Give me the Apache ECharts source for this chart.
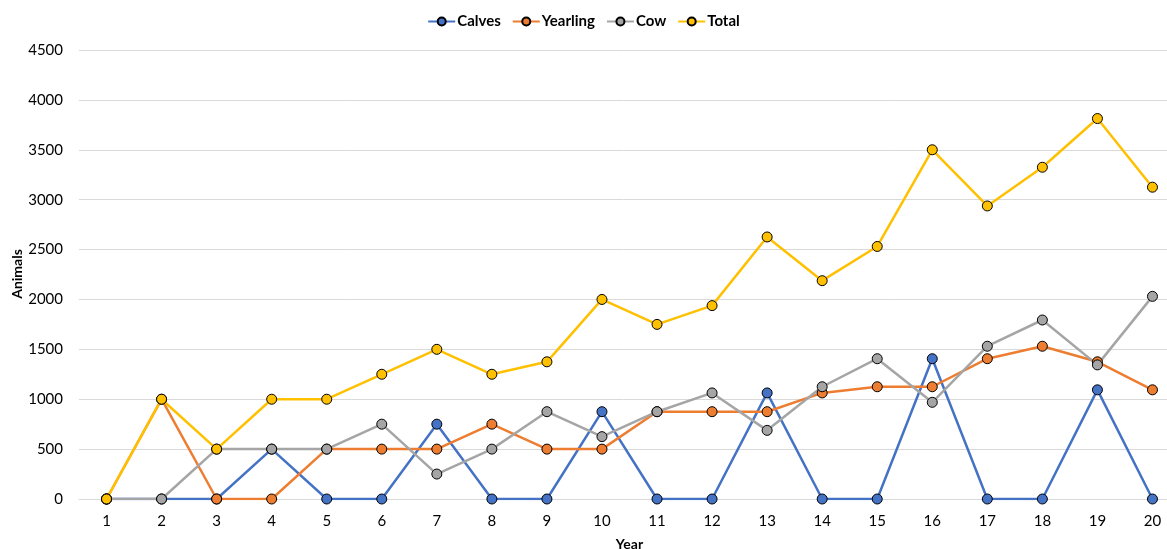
<!DOCTYPE html>
<html>
<head>
<meta charset="utf-8">
<script src="https://cdn.jsdelivr.net/npm/echarts@6/dist/echarts.min.js"></script>
<style>
html,body{margin:0;padding:0;background:#fff;}
#chart{width:1167px;height:549px;}
</style>
</head>
<body>
<div id="chart"></div>
<script>
const years = ['1','2','3','4','5','6','7','8','9','10','11','12','13','14','15','16','17','18','19','20'];
const calves   = [0,0,0,500,0,0,750,0,0,875,0,0,1063,0,0,1406,0,0,1094,0];
const yearling = [0,1000,0,0,500,500,500,750,500,500,875,875,875,1063,1125,1125,1406,1531,1375,1094];
const cow      = [0,0,500,500,500,750,250,500,875,625,875,1063,688,1125,1406,969,1531,1794,1344,2031];
const total    = [0,1000,500,1000,1000,1250,1500,1250,1375,2000,1750,1938,2626,2188,2531,3500,2937,3325,3813,3125];
const seriesNames = ['Calves','Yearling','Cow','Total'];
const colors = ['#4472C4','#ED7D31','#A5A5A5','#FFC000'];

const font = 'Lato, "Open Sans", "Liberation Sans", sans-serif';
const chart = echarts.init(document.getElementById('chart'), null, {renderer:'canvas'});
const dataSets = [calves, yearling, cow, total];
chart.setOption({
  animation:false,
  color: colors,
  legend: {
    top: 9, left: 'center',
    itemWidth: 27, itemHeight: 10, itemGap: 11,
    textStyle: {fontFamily: font, fontWeight: 'bold', fontSize: 15, color: '#000', padding: [0,0,0,-3]},
    data: seriesNames
  },
  graphic: [{
    type: 'text', x: 17, y: 274, rotation: Math.PI / 2,
    style: {text: 'Animals', fill: '#000', textAlign: 'center', textVerticalAlign: 'middle',
            font: 'bold 14px Lato, "Open Sans", sans-serif'}
  }],
  grid: {left: 79, top: 50, width: 1101, height: 449, containLabel: false, outerBoundsMode: 'none'},
  xAxis: {
    type: 'category', data: years, boundaryGap: true,
    name: 'Year', nameLocation: 'middle', nameGap: 38,
    nameTextStyle: {fontFamily: font, fontWeight: 'bold', fontSize: 14, color: '#000'},
    axisLine: {show: true, lineStyle: {color: '#d9d9d9', width: 1}},
    axisTick: {show: false},
    axisLabel: {fontFamily: font, fontSize: 15, color: '#000', margin: 15}
  },
  yAxis: {
    type: 'value', min: 0, max: 4500, interval: 500,
    axisLine: {show: false}, axisTick: {show: false},
    axisLabel: {fontFamily: font, fontSize: 15, color: '#000', margin: 16, formatter: v => String(v)},
    splitLine: {lineStyle: {color: '#d9d9d9', width: 1}}
  },
  series: seriesNames.map((n, i) => ({
    name: n, type: 'line', data: dataSets[i],
    symbol: 'circle', symbolSize: 10,
    lineStyle: {width: 2.5, color: colors[i]},
    itemStyle: {color: colors[i], borderColor: '#000', borderWidth: 1}
  }))
});
</script>
</body>
</html>
